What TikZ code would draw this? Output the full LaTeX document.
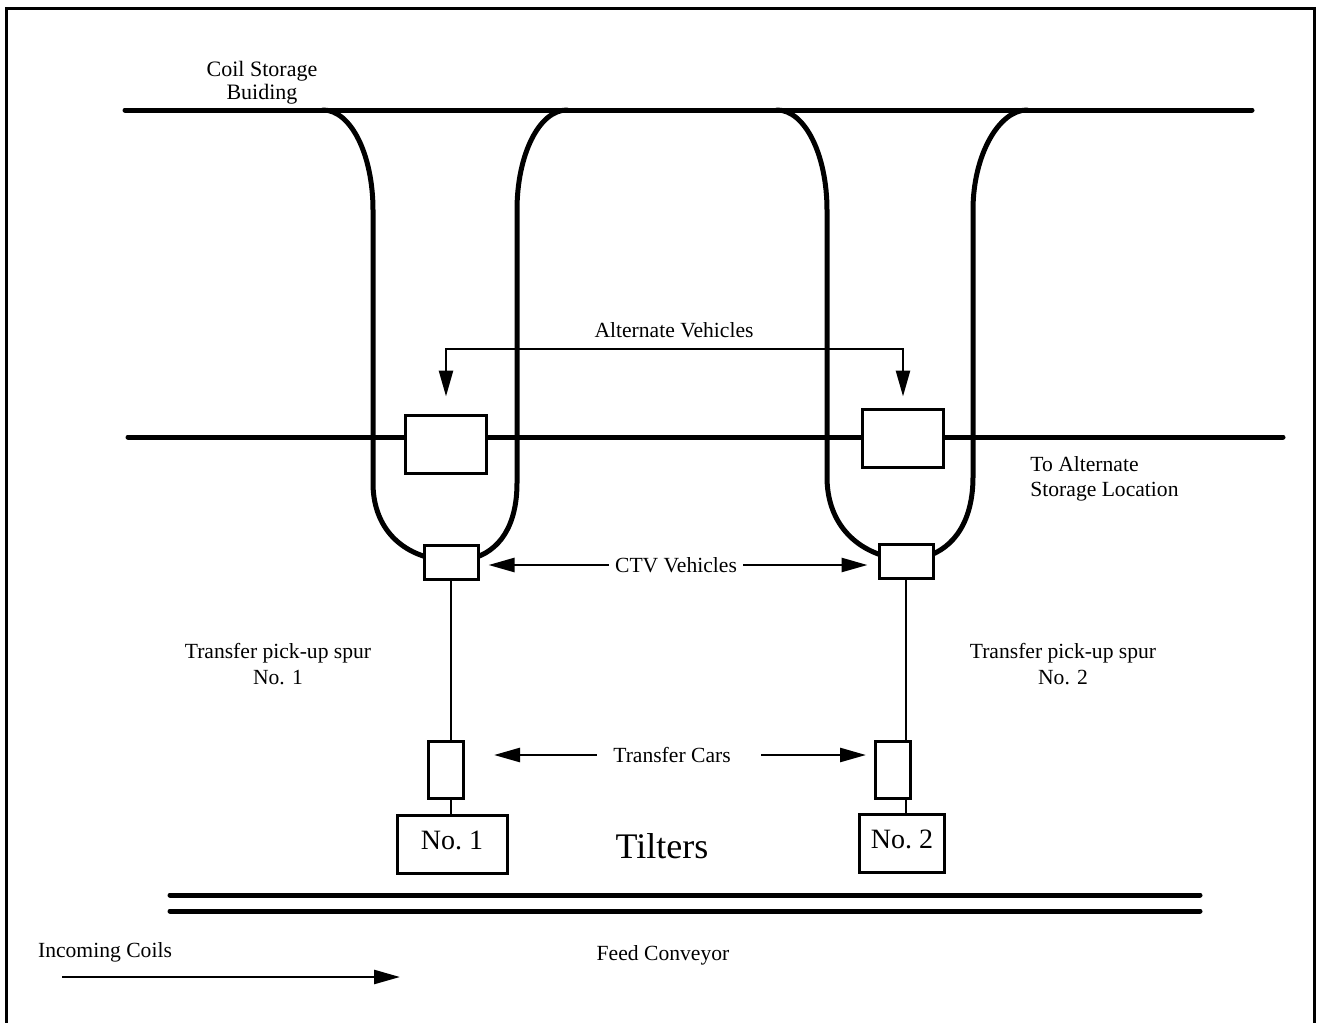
\documentclass[tikz,border=0pt]{standalone}
\usepackage{fontspec}
\setmainfont{Liberation Serif}
\usetikzlibrary{arrows.meta,positioning}
\tikzset{
  track/.style = {line width=2.5pt, line cap=round},
  spur/.style = {line width=1.3pt},
  veh/.style = {draw, line width=1.5pt, fill=white, rectangle, minimum width=40.5pt, minimum height=29pt},
  ctv/.style = {draw, line width=1.5pt, fill=white, rectangle, minimum width=27pt, minimum height=17pt},
  tcar/.style = {draw, line width=1.5pt, fill=white, rectangle, minimum width=17.5pt, minimum height=28.5pt},
  tilter/.style = {draw, line width=1.5pt, fill=white, rectangle, minimum height=29pt},
  lbl/.style = {font=\fontsize{10.8}{12.6}\selectfont, align=center, inner sep=3pt},
  arrow/.style = {line width=1.3pt, -{Triangle[length=13pt,width=7pt]}}
}
\begin{document}
\begin{tikzpicture}[x=0.5pt, y=-0.5pt]
        \useasboundingbox (0,0) rectangle (1323,1023);
        % frame
        \draw[line width=1.5pt] (6,1023) -- (6,8) -- (1314,8) -- (1314,1023);
        % main tracks
        \draw[track] (125,110) -- (1252,110);
        \draw[track] (128,437) -- (1283,437);
        % loop 1
        \draw[track] (323,110) .. controls (351,110) and (373,155) .. (373,210) -- (373,483)
              .. controls (373,525) and (398,552) .. (435,559) -- (452,562);
        \draw[track] (452,562) -- (470,559) .. controls (500,552) and (517,525) .. (517,483)
              -- (517,210) .. controls (517,155) and (539,110) .. (567,110);
        % loop 2
        \draw[track] (777,110) .. controls (805,110) and (827,155) .. (827,210) -- (827,477)
              .. controls (827,520) and (852,548) .. (888,557) -- (906,561);
        \draw[track] (906,561) -- (925,557) .. controls (955,548) and (973,520) .. (973,477)
              -- (973,210) .. controls (973,155) and (999,110) .. (1027,110);
        % conveyor
        \draw[track] (170,895) -- (1200,895);
        \draw[track] (170,911) -- (1200,911);

        % vehicles
        \node[veh] (veh1) at (446,444) {};
        \node[veh] (veh2) at (903,438) {};
        \node[ctv] (ctv1) at (451,562) {};
        \node[ctv] (ctv2) at (906,561) {};
        \node[tcar] (car1) at (446,770) {};
        \node[tcar] (car2) at (893,770) {};
        \node[tilter, minimum width=55pt] (til1) at (452,844) {};
        \node[tilter, minimum width=42.5pt] (til2) at (902,843) {};
        \draw[spur] (ctv1.south) -- (ctv1.south |- car1.north);
        \draw[spur] (ctv1.south |- car1.south) -- (ctv1.south |- til1.north);
        \draw[spur] (ctv2.south) -- (ctv2.south |- car2.north);
        \draw[spur] (ctv2.south |- car2.south) -- (ctv2.south |- til2.north);

        % labels
        \node[lbl, font=\fontsize{11}{11.5}\selectfont] (csb) at (262,83) {Coil Storage\\Buiding};
        \node[lbl] (altv) at (674,330) {Alternate Vehicles};
        \coordinate (altbar) at (674,349);
        \node[lbl, align=left, anchor=west] (toalt) at (1024,479) {To Alternate\\Storage Location};
        \node[lbl] (ctvl) at (676,565) {CTV Vehicles};
        \node[lbl] (sp1) at (278,664) {Transfer pick-up spur\\No. 1};
        \node[lbl] (sp2) at (1063,664) {Transfer pick-up spur\\No. 2};
        \node[lbl] (tcl) at (672,755) {Transfer Cars};
        \node[font=\fontsize{14}{16}\selectfont] at ([yshift=2pt]til1.center) {No.~1};
        \node[font=\fontsize{14}{16}\selectfont] at ([yshift=2pt]til2.center) {No.~2};
        \node[font=\fontsize{18}{20}\selectfont] (tilt) at (662,846) {Tilters};
        \node[lbl] (inc) at (105,952) {Incoming Coils};
        \node[lbl] (feed) at (663,955) {Feed Conveyor};
        \coordinate (incs) at (62,977);
        \coordinate (ince) at (400,977);

        % arrows
        \draw[arrow, {Triangle[length=13pt,width=7pt]}-{Triangle[length=13pt,width=7pt]},
              shorten <=5.5pt, shorten >=8.5pt] (veh2) |- (altbar) -| (veh1);
        \draw[arrow, shorten >=4.5pt] (ctvl.west) -- (ctvl.west -| ctv1.east);
        \draw[arrow, shorten >=5pt] (ctvl.east) -- (ctvl.east -| ctv2.west);
        \draw[arrow, shorten >=14.5pt] ([xshift=-5pt]tcl.west) -- (tcl.west -| car1.east);
        \draw[arrow, shorten >=4pt] ([xshift=12pt]tcl.east) -- (tcl.east -| car2.west);
        \draw[arrow] (incs) -- (ince);
    \end{tikzpicture}
\end{document}
